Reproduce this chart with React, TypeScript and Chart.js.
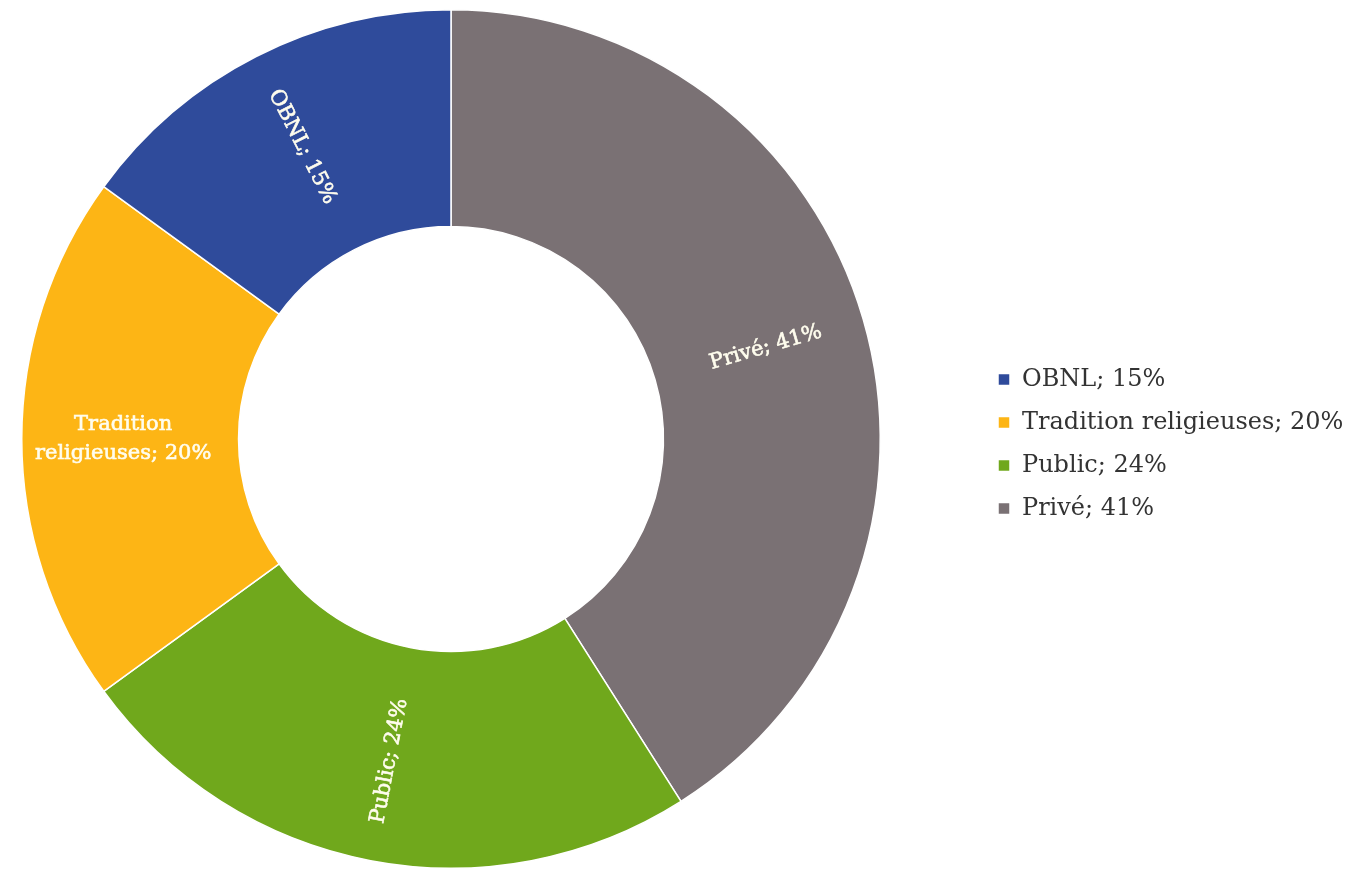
import React, { useEffect, useRef } from 'react';
import { Chart, registerables } from 'chart.js';

Chart.register(...registerables);

// Data (drawn clockwise from 12 o'clock)
const categories = ['Privé', 'Public', 'Tradition religieuses', 'OBNL'];
const values = [41, 24, 20, 15];
const colors = ['#7A7174', '#70A81C', '#FDB515', '#2F4B9B'];
const sliceLabelLines = [['Privé; 41%'], ['Public; 24%'], ['Tradition', 'religieuses; 20%'], ['OBNL; 15%']];
const legendLabels = categories.map((c, i) => `${c}; ${values[i]}%`);

const FONT = "'DejaVu Serif', 'Liberation Serif', serif";
const LEGEND_BOX_WIDTH = 464;
const LEGEND_ITEM_X = 998;
const LEGEND_PAD = 19;
const LEGEND_Y_SHIFT = 5;

const legendPlacement = {
  id: 'legendPlacement',
  beforeLayout(chart: any) {
    const lg = chart.legend;
    if (lg && !lg.__patched) {
      const orig = lg.fit;
      lg.fit = function () {
        orig.call(this);
        this.width = LEGEND_BOX_WIDTH;
      };
      lg.__patched = true;
    }
  },
  afterLayout(chart: any) {
    const lg = chart.legend;
    if (!lg) return;
    const w = lg.right - lg.left;
    lg.left = LEGEND_ITEM_X - LEGEND_PAD;
    lg.right = lg.left + w;
    lg.top += LEGEND_Y_SHIFT;
    lg.bottom += LEGEND_Y_SHIFT;
  },
};

const sliceLabels = {
  id: 'sliceLabels',
  afterDatasetsDraw(chart: any) {
    const ctx = chart.ctx;
    const meta = chart.getDatasetMeta(0);
    meta.data.forEach((arc: any, i: number) => {
      const p = arc.getProps(['x', 'y', 'startAngle', 'endAngle', 'innerRadius', 'outerRadius'], true);
      const mid = (p.startAngle + p.endAngle) / 2;
      const r = (p.innerRadius + p.outerRadius) / 2 + 7;
      const cx = p.x + Math.cos(mid) * r;
      const cy = p.y + Math.sin(mid) * r;
      let rot = Math.atan2(Math.sin(mid), Math.cos(mid));
      if (rot > Math.PI / 2 + 1e-6) rot -= Math.PI;
      else if (rot < -Math.PI / 2 - 1e-6) rot += Math.PI;
      if (Math.abs(Math.abs(rot) - Math.PI) < 1e-6) rot = 0;
      const lines = sliceLabelLines[i];
      const lh = 29;
      ctx.save();
      ctx.translate(cx, cy);
      ctx.rotate(rot);
      ctx.font = `21px ${FONT}`;
      ctx.fillStyle = '#FFFDEE';
      ctx.strokeStyle = '#FFFDEE';
      ctx.lineWidth = 0.6;
      ctx.textAlign = 'center';
      ctx.textBaseline = 'middle';
      lines.forEach((l, k) => {
        const y = (k - (lines.length - 1) / 2) * lh;
        ctx.fillText(l, 0, y);
        ctx.strokeText(l, 0, y);
      });
      ctx.restore();
    });
  },
};

export default function App() {
  const canvasRef = useRef<HTMLCanvasElement | null>(null);

  useEffect(() => {
    document.body.style.margin = '0';
    document.body.style.background = '#ffffff';
    const canvas = canvasRef.current;
    if (!canvas) return;
    const chart = new Chart(canvas, {
      type: 'doughnut',
      data: {
        labels: legendLabels,
        datasets: [
          {
            data: values,
            backgroundColor: colors,
            borderColor: '#ffffff',
            borderWidth: 1.5,
          },
        ],
      },
      options: {
        responsive: true,
        maintainAspectRatio: false,
        animation: false,
        cutout: '49.5%',
        rotation: 0,
        layout: { padding: { left: 21, top: 9, right: 0, bottom: 0 } },
        plugins: {
          legend: {
            position: 'right',
            reverse: true,
            labels: {
              font: { family: FONT, size: 24 },
              color: '#333333',
              boxWidth: 12,
              boxHeight: 12,
              padding: LEGEND_PAD,
            },
          },
          tooltip: { enabled: false },
        },
      },
      plugins: [legendPlacement, sliceLabels],
    });
    return () => chart.destroy();
  }, []);

  return (
    <div style={{ position: 'relative', width: 1345, height: 869 }}>
      <canvas ref={canvasRef} />
    </div>
  );
}
